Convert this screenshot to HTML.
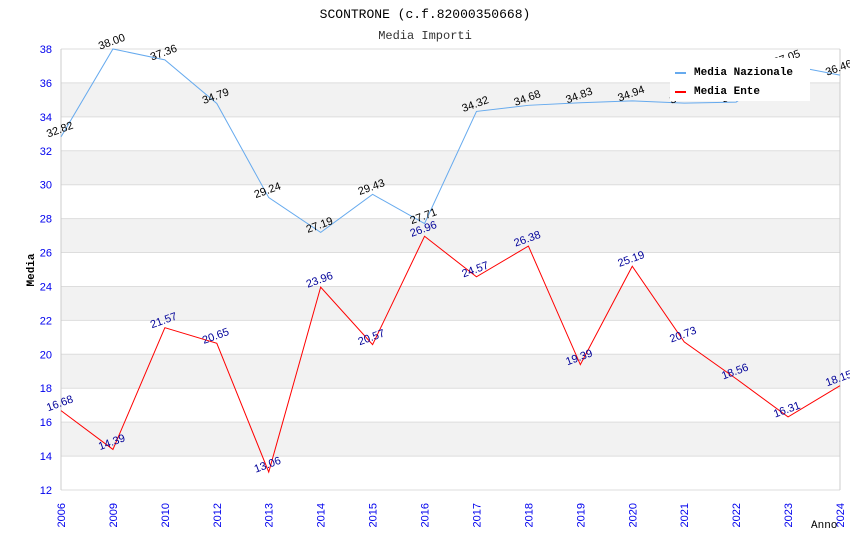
<!DOCTYPE html>
<html><head><meta charset="utf-8"><style>
body{margin:0;background:#fff;}
svg text{font-family:"Liberation Sans",sans-serif;}
</style></head><body>
<svg id="c" width="850" height="550" xmlns="http://www.w3.org/2000/svg">
<text x="425" y="18" text-anchor="middle" style="font-family:'Liberation Mono',monospace;font-size:13px" fill="#000">SCONTRONE (c.f.82000350668)</text>
<text x="425" y="39" text-anchor="middle" style="font-family:'Liberation Mono',monospace;font-size:12px" fill="#333">Media Importi</text>
<g id="bands"></g><g id="grid"></g>
<text transform="translate(34,270) rotate(-90)" text-anchor="middle" style="font-family:'Liberation Mono',monospace;font-size:11px;font-weight:bold">Media</text>
<text x="811" y="528" style="font-family:'Liberation Mono',monospace;font-size:11px">Anno</text>
<g id="series"></g>
<g>
<rect x="670" y="58" width="140" height="43" fill="#fff"/>
<line x1="675" y1="73" x2="686" y2="73" stroke="#66aaee" stroke-width="2"/>
<text x="694" y="75" style="font-family:'Liberation Mono',monospace;font-size:11px;font-weight:bold">Media Nazionale</text>
<line x1="675" y1="92" x2="686" y2="92" stroke="#ff0000" stroke-width="2"/>
<text x="694" y="94" style="font-family:'Liberation Mono',monospace;font-size:11px;font-weight:bold">Media Ente</text>
</g>
</svg>
<script>
const years=["2006","2009","2010","2012","2013","2014","2015","2016","2017","2018","2019","2020","2021","2022","2023","2024"];
const nazionale=[32.82,38.00,37.36,34.79,29.24,27.19,29.43,27.71,34.32,34.68,34.83,34.94,34.81,34.87,37.05,36.46];
const ente=[16.68,14.39,21.57,20.65,13.06,23.96,20.57,26.96,24.57,26.38,19.39,25.19,20.73,18.56,16.31,18.15];
const yTicks=[12,14,16,18,20,22,24,26,28,30,32,34,36,38];
const NS="http://www.w3.org/2000/svg";
const L=61,R=840,T=49,B=490,YMIN=12,YMAX=38;
const xs=i=>L+i*(R-L)/(years.length-1);
const ys=v=>B-(v-YMIN)*(B-T)/(YMAX-YMIN);
function mk(tag,attrs,parent){const e=document.createElementNS(NS,tag);for(const k in attrs)e.setAttribute(k,attrs[k]);parent.appendChild(e);return e;}
const bands=document.getElementById('bands'),grid=document.getElementById('grid'),ser=document.getElementById('series');
for(let i=0;i<yTicks.length-1;i++){
  if(i%2===1){const r=mk('rect',{x:L,y:ys(yTicks[i+1]),width:R-L,height:ys(yTicks[i])-ys(yTicks[i+1]),fill:'#f2f2f2'},bands);
  
  }
}
yTicks.forEach(v=>{
  const l=mk('line',{x1:L,x2:R,y1:ys(v),y2:ys(v),stroke:'#dddddd'},grid);
  
  
  const t=mk('text',{x:L-9,y:ys(v)+4,'text-anchor':'end','font-size':'11',fill:'#0000ee'},grid);
  
  
  t.textContent=v;
});
mk('line',{x1:L,x2:L,y1:T,y2:B,stroke:'#ccc'},grid);
mk('line',{x1:R,x2:R,y1:T,y2:B,stroke:'#ccc'},grid);
years.forEach((y,i)=>{
  const t=mk('text',{transform:`translate(${xs(i)+4},503) rotate(-90)`,'text-anchor':'end','font-size':'11',fill:'#0000ee'},grid);
  
  
  t.textContent=y;
});
function draw(vals,color,lblColor,name){
  const p=mk('polyline',{points:vals.map((v,i)=>xs(i)+','+ys(v)).join(' '),fill:'none',stroke:color,'stroke-width':1},ser);
  
  
  vals.forEach((v,i)=>{
    const t=mk('text',{transform:`translate(${xs(i)},${ys(v)-4}) rotate(-20)`,'text-anchor':'middle','font-size':'11',fill:lblColor},ser);
    
    
    t.textContent=v.toFixed(2);
  });
}
draw(nazionale,'#66aaee','#000','nazionale');
draw(ente,'#ff0000','#000099','ente');
</script>
</body></html>
